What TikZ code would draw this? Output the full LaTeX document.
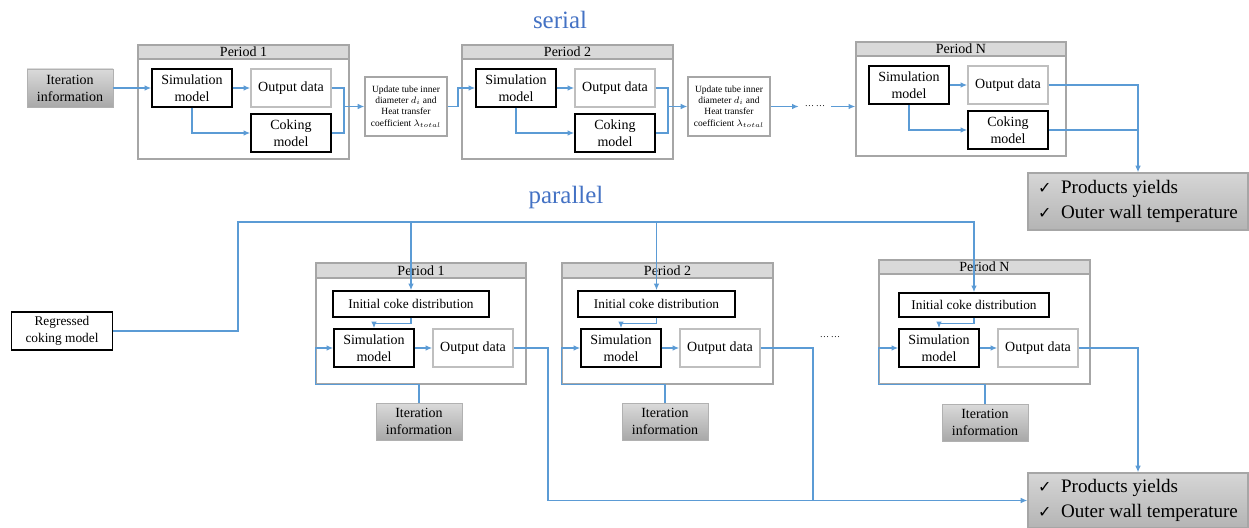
\documentclass[tikz,border=0pt]{standalone}
\usepackage{fontspec}
\setmainfont{Liberation Serif}
\newfontfamily\tnr{Liberation Serif}
\newfontfamily\chkfont{DejaVu Sans}
\usetikzlibrary{arrows.meta}
\definecolor{lnblue}{RGB}{91,155,213}
\definecolor{ttblue}{RGB}{68,114,196}
\definecolor{frmgray}{RGB}{166,166,166}
\definecolor{hdrgray}{RGB}{217,217,217}
\definecolor{boxgray}{RGB}{191,191,191}
\definecolor{itTop}{RGB}{218,218,218}
\definecolor{itBot}{RGB}{168,168,168}
\definecolor{resTop}{RGB}{214,214,214}
\definecolor{resBot}{RGB}{180,180,180}
\begin{document}
\begin{tikzpicture}[x=0.75pt,y=-0.75pt,
  sz/.style 2 args={minimum width=#1*0.75pt, minimum height=#2*0.75pt},
  base/.style={rectangle, inner sep=0pt, align=center, font=\tnr\fontsize{10.5}{12.75}\selectfont},
  blk/.style={base, draw=black, line width=1.1pt, fill=white},
  gry/.style={base, draw=boxgray, line width=1.1pt, fill=white},
  frm/.style={rectangle, draw=frmgray, line width=1pt, fill=white, inner sep=0pt},
  hdr/.style={rectangle, draw=frmgray, line width=1pt, fill=hdrgray, inner sep=0pt, anchor=north, font=\tnr\fontsize{10.5}{12.75}\selectfont},
  iter/.style={base, top color=itTop, bottom color=itBot, draw=itBot!90!white, line width=0.4pt},
  upd/.style={base, draw=frmgray, line width=0.9pt, fill=white, font=\tnr\fontsize{7.1}{8.5}\selectfont},
  res/.style={rectangle, inner sep=0pt, align=left, top color=resTop, bottom color=resBot, draw=frmgray, line width=0.9pt, font=\tnr\fontsize{14.3}{18.5}\selectfont},
  ttl/.style={font=\tnr\fontsize{18.7}{22}\selectfont, text=ttblue, inner sep=0pt},
  dotsn/.style={inner sep=0pt, font=\tnr\fontsize{7}{8}\selectfont},
  ln/.style={draw=lnblue, line width=1.1pt},
  arr/.style={ln, -{Latex[length=5pt,width=4.2pt]}}
]
\useasboundingbox (0,0) rectangle (1249,528);

% ================= SERIAL =================
\node[ttl] (tser) at (560,20) {serial};

\node[iter, sz={86}{38}] (it0) at (70,88) {Iteration\\information};

\node[frm, sz={211}{114}] (P1) at (243.5,102) {};
\node[hdr, sz={211}{14}] (P1h) at (P1.north) {Period 1};
\node[blk, sz={80}{38}] (s1) at (192,88) {Simulation\\model};
\node[gry, sz={80}{38}] (o1) at (291,88) {Output data};
\node[blk, sz={80}{38}] (c1) at (291,133) {Coking\\model};

\node[upd, sz={82}{59}] (u1) at (406,106.5) {Update tube inner\\diameter $d_i$ and\\Heat transfer\\coefficient $\lambda_{total}$};

\node[frm, sz={211}{114}] (P2) at (567.5,102) {};
\node[hdr, sz={211}{14}] (P2h) at (P2.north) {Period 2};
\node[blk, sz={80}{38}] (s2) at (516,88) {Simulation\\model};
\node[gry, sz={80}{38}] (o2) at (615,88) {Output data};
\node[blk, sz={80}{38}] (c2) at (615,133) {Coking\\model};

\node[upd, sz={82}{59}] (u2) at (729,106.5) {Update tube inner\\diameter $d_i$ and\\Heat transfer\\coefficient $\lambda_{total}$};

\node[dotsn, sz={32}{10}] (dots1) at (815,106.5) {\ldots\,\ldots};

\node[frm, sz={210}{114}] (PN) at (961,99) {};
\node[hdr, sz={210}{14}] (PNh) at (PN.north) {Period N};
\node[blk, sz={80}{38}] (sN) at (909,85) {Simulation\\model};
\node[gry, sz={80}{38}] (oN) at (1008,85) {Output data};
\node[blk, sz={80}{38}] (cN) at (1008,130) {Coking\\model};

\node[res, sz={220}{57}] (r1) at (1138,201.5) {{\chkfont\fontsize{12}{18.5}\selectfont ✓}\enspace Products yields\\{\chkfont\fontsize{12}{18.5}\selectfont ✓}\enspace Outer wall temperature};

% serial connectors
\draw[arr] (it0.east) -- (s1.west);
\draw[arr] (s1.east) -- (o1.west);
\draw[arr] (s1.south) |- (c1.west);
\coordinate (j1) at (344,106.5);
\draw[ln] (o1.east) -| (j1) |- (c1.east);
\draw[arr] (j1) -- (u1.west);
\coordinate (k1) at (458,106.5);
\draw[arr] (u1.east) -- (k1) |- (s2.west);

\draw[arr] (s2.east) -- (o2.west);
\draw[arr] (s2.south) |- (c2.west);
\coordinate (j2) at (668,106.5);
\draw[ln] (o2.east) -| (j2) |- (c2.east);
\draw[arr] (j2) -- (u2.west);
\draw[arr] (u2.east) -- (dots1.west);
\draw[arr] (dots1.east) -- (dots1.east -| PN.west);

\draw[arr] (sN.east) -- (oN.west);
\draw[arr] (sN.south) |- (cN.west);
\draw[arr] (oN.east) -| (r1.north);
\draw[ln] (cN.east) -- (cN.east -| r1.north);

% ================= PARALLEL =================
\node[ttl] (tpar) at (566,198) {parallel};

\node[blk, sz={101}{38}, font=\tnr\fontsize{10}{12.5}\selectfont] (reg) at (62,331) {Regressed\\coking model};

\node[frm, sz={210}{121}] (Q1) at (421,323.5) {};
\node[hdr, sz={210}{15}] (Q1h) at (Q1.north) {Period 1};
\node[blk, sz={156}{26}, font=\tnr\fontsize{10}{12}\selectfont] (i1) at (411,304) {Initial coke distribution};
\node[blk, sz={80}{38}] (p1) at (374,348) {Simulation\\model};
\node[gry, sz={80}{38}] (q1) at (473,348) {Output data};
\node[iter, sz={86}{37}] (t1) at (419,421.5) {Iteration\\information};

\node[frm, sz={211}{121}] (Q2) at (667.5,323.5) {};
\node[hdr, sz={211}{15}] (Q2h) at (Q2.north) {Period 2};
\node[blk, sz={157}{26}, font=\tnr\fontsize{10}{12}\selectfont] (i2) at (656.5,304) {Initial coke distribution};
\node[blk, sz={80}{38}] (p2) at (621,348) {Simulation\\model};
\node[gry, sz={80}{38}] (q2) at (720,348) {Output data};
\node[iter, sz={86}{37}] (t2) at (665,421.5) {Iteration\\information};

\node[dotsn] (dots2) at (830,337) {\ldots\,\ldots};

\node[frm, sz={211}{124}] (QN) at (984.5,322) {};
\node[hdr, sz={211}{14}] (QNh) at (QN.north) {Period N};
\node[blk, sz={150}{24}, font=\tnr\fontsize{10}{12}\selectfont] (iN) at (974,305) {Initial coke distribution};
\node[blk, sz={80}{38}] (pN) at (939,348) {Simulation\\model};
\node[gry, sz={80}{38}] (qN) at (1038,348) {Output data};
\node[iter, sz={86}{37}] (tN) at (985,422.5) {Iteration\\information};

\node[res, sz={220}{55}] (r2) at (1138,500.5) {{\chkfont\fontsize{12}{18.5}\selectfont ✓}\enspace Products yields\\{\chkfont\fontsize{12}{18.5}\selectfont ✓}\enspace Outer wall temperature};

% parallel connectors
\coordinate (ta) at (238,222);
\draw[arr] (reg.east) -| (ta) -- (ta -| iN.north) -- (iN.north);
\draw[arr] (ta -| i1.north) -- (i1.north);
\draw[arr] (ta -| i2.north) -- (i2.north);

\draw[arr] (i1.south) -- ++(0,6) -| (p1.north);
\draw[arr] (i2.south) -- ++(0,6) -| (p2.north);
\draw[arr] (iN.south) -- ++(0,6) -| (pN.north);

\draw[arr] (p1.east) -- (q1.west);
\draw[arr] (p2.east) -- (q2.west);
\draw[arr] (pN.east) -- (qN.west);

\draw[arr] (t1.north) |- (Q1.south west) |- (p1.west);
\draw[arr] (t2.north) |- (Q2.south west) |- (p2.west);
\draw[arr] (tN.north) |- (QN.south west) |- (pN.west);

\coordinate (b1) at (548,500.5);
\draw[arr] (q1.east) -| (b1) -- (r2.west);
\coordinate (b2) at (813,500.5);
\draw[ln] (q2.east) -| (b2);
\draw[arr] (qN.east) -| (r2.north);
\end{tikzpicture}
\end{document}
